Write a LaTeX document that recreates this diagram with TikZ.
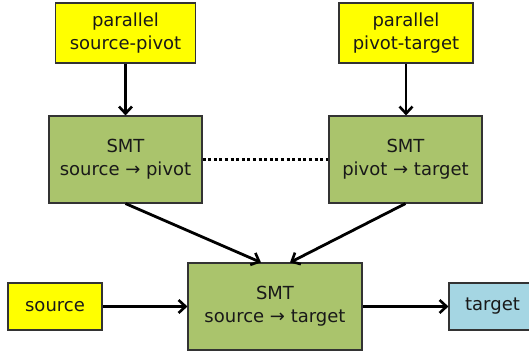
\documentclass[tikz,border=0pt]{standalone}
\usepackage{fontspec}
\setmainfont{DejaVu Sans}
\usetikzlibrary{arrows.meta}
\definecolor{boxyellow}{HTML}{FFFF00}
\definecolor{boxgreen}{HTML}{AAC46C}
\definecolor{boxblue}{HTML}{A5D6E3}
\definecolor{edgegray}{HTML}{333333}
\tikzset{
  box/.style={draw=edgegray, line width=1.1pt, rectangle, align=center, inner sep=0pt,
    font=\fontsize{18}{23}\selectfont, text=black!90},
  databox/.style={box, fill=boxyellow},
  smtbox/.style={box, fill=boxgreen},
  outbox/.style={box, fill=boxblue},
  flow/.style={line width=2.8pt, -{Straight Barb[length=7pt, width=13pt, line width=2.6pt]}},
  link/.style={line width=3pt, dash pattern=on 3pt off 2.6pt}
}
\begin{document}
\begin{tikzpicture}[x=1pt, y=-1pt]
  \useasboundingbox (0,0) rectangle (529,352);
  % training data
  \node[databox, minimum width=140pt, minimum height=60pt] (psp) at (125.5,33) {parallel\\source-pivot};
  \node[databox, minimum width=134pt, minimum height=60pt] (ppt) at (406,33) {parallel\\pivot-target};
  % pivot systems
  \node[smtbox, minimum width=153pt, minimum height=87pt] (sp) at (125.5,159.5) {SMT\\source → pivot};
  \node[smtbox, minimum width=153pt, minimum height=87pt] (pt) at (405.5,159.5) {SMT\\pivot → target};
  % combined system
  \node[smtbox, minimum width=174pt, minimum height=87pt] (st) at (275,306.5) {SMT\\source → target};
  \node[databox, minimum width=94pt, minimum height=47pt] (src) at (55,306.5) {source};
  \node[outbox, minimum width=87pt, minimum height=47pt] (tgt) at (492.5,306.5) {target};
  % connectors
  \draw[flow] (psp.south) -- (psp.south |- sp.north);
  \draw[flow] (ppt.south) -- (ppt.south |- pt.north);
  \draw[link] (sp.east) -- (pt.west);
  \draw[flow] (sp.south) -- ([xshift=-14pt]st.north);
  \draw[flow] (pt.south) -- ([xshift=15pt]st.north);
  \draw[flow] (src) -- (st);
  \draw[flow] (st) -- (tgt);
\end{tikzpicture}
\end{document}
